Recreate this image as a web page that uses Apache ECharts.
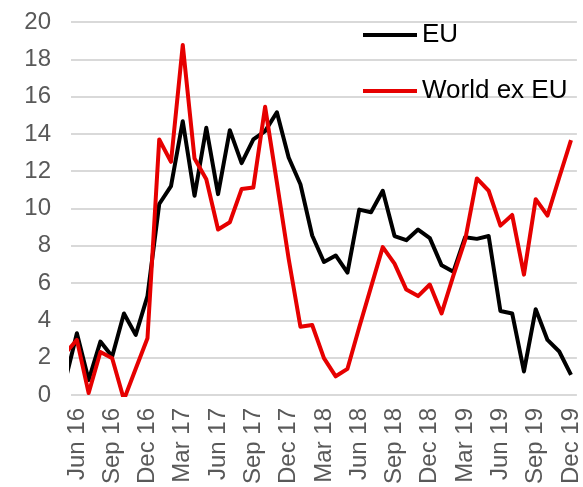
<!DOCTYPE html>
<html>
<head>
<meta charset="utf-8">
<script src="https://cdn.jsdelivr.net/npm/echarts@6/dist/echarts.min.js"></script>
<style>
html,body{margin:0;padding:0;background:#fff;}
#chart{width:583px;height:487px;}
</style>
</head>
<body>
<div id="chart"></div>
<script>
// Months; the first one (May 16) sits just left of the plot and is clipped
var months = ["May 16","Jun 16","Jul 16","Aug 16","Sep 16","Oct 16","Nov 16","Dec 16",
  "Jan 17","Feb 17","Mar 17","Apr 17","May 17","Jun 17","Jul 17","Aug 17","Sep 17","Oct 17","Nov 17","Dec 17",
  "Jan 18","Feb 18","Mar 18","Apr 18","May 18","Jun 18","Jul 18","Aug 18","Sep 18","Oct 18","Nov 18","Dec 18",
  "Jan 19","Feb 19","Mar 19","Apr 19","May 19","Jun 19","Jul 19","Aug 19","Sep 19","Oct 19","Nov 19","Dec 19"];
var euValues = [0.72, 3.31, 0.8, 2.86, 2.06, 4.37, 3.22, 5.3,
  10.24, 11.2, 14.68, 10.68, 14.33, 10.77, 14.2, 12.43, 13.7, 14.15, 15.16, 12.73,
  11.3, 8.55, 7.13, 7.48, 6.56, 9.94, 9.8, 10.95, 8.52, 8.3, 8.87, 8.41,
  6.95, 6.6, 8.46, 8.37, 8.52, 4.5, 4.37, 1.26, 4.6, 2.95, 2.33, 1.08];
var worldValues = [2.22, 2.95, 0.1, 2.3, 1.97, -0.25, 1.4, 3.04,
  13.7, 12.5, 18.77, 12.68, 11.57, 8.87, 9.26, 11.04, 11.13, 15.45, 11.4, 7.3,
  3.66, 3.75, 1.97, 1.0, 1.4, 3.63, 5.78, 7.93, 7.04, 5.65, 5.3, 5.92,
  4.37, 6.4, 8.3, 11.61, 10.95, 9.08, 9.65, 6.45, 10.5, 9.62, 11.66, 13.67];
var tickLabels = ["Jun 16","Sep 16","Dec 16","Mar 17","Jun 17","Sep 17","Dec 17","Mar 18","Jun 18","Sep 18","Dec 18","Mar 19","Jun 19","Sep 19","Dec 19"];
var seriesNames = ["EU", "World ex EU"];

var FONT = "'Liberation Sans', Arial, sans-serif";
function toPairs(vals){
  return vals.map(function(v, k){ return [k - 1, v]; });
}
var labelPositions = tickLabels.map(function(t){ return months.indexOf(t) - 1; });

var chart = echarts.init(document.getElementById('chart'), null, {renderer:'canvas'});
chart.setOption({
  animation: false,
  backgroundColor: '#ffffff',
  grid: {left: 71, right: 5, top: 22, bottom: 90, containLabel: false},
  legend: {
    orient: 'vertical',
    left: 356,
    top: 17,
    itemWidth: 54,
    itemHeight: 25,
    itemGap: 30,
    data: seriesNames,
    itemStyle: {opacity: 0},
    lineStyle: {width: 4},
    textStyle: {fontFamily: FONT, fontSize: 26, color: '#000000', lineHeight: 25}
  },
  xAxis: {
    type: 'value',
    min: -0.5,
    max: 42.5,
    axisLine: {show: false},
    axisTick: {show: false},
    splitLine: {show: false},
    axisLabel: {
      customValues: labelPositions,
      rotate: 90,
      margin: 13,
      fontFamily: FONT,
      fontSize: 24,
      color: '#595959',
      formatter: function(v){ return months[Math.round(v) + 1] || ''; }
    }
  },
  yAxis: {
    type: 'value',
    min: 0,
    max: 20,
    interval: 2,
    axisLine: {show: false},
    axisTick: {show: false},
    splitLine: {lineStyle: {color: '#d9d9d9', width: 2}},
    axisLabel: {fontFamily: FONT, fontSize: 24, color: '#595959', margin: 20}
  },
  series: [
    {
      name: seriesNames[0], type: 'line', data: toPairs(euValues),
      symbol: 'none', clip: true,
      itemStyle: {color: '#000000'},
      lineStyle: {color: '#000000', width: 4, join: 'round'}
    },
    {
      name: seriesNames[1], type: 'line', data: toPairs(worldValues),
      symbol: 'none', clip: true,
      itemStyle: {color: '#e60000'},
      lineStyle: {color: '#e60000', width: 4, join: 'round'}
    }
  ]
});
</script>
</body>
</html>
